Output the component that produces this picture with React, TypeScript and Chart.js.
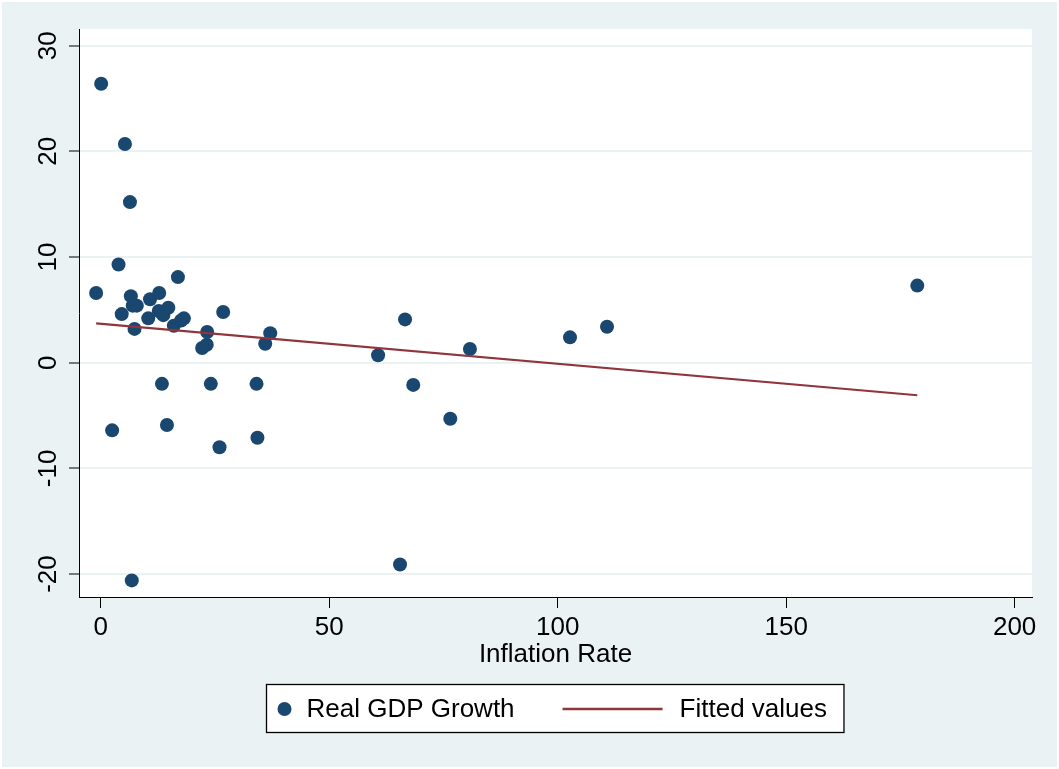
import React, { useEffect, useRef } from "react";
import { Chart, registerables } from "chart.js";

Chart.register(...registerables);

const inflation = [
  -1.0, 0.1, 2.5, 3.9, 4.6, 5.3, 6.4, 6.8, 6.6, 7.0, 7.4, 7.9, 10.4, 10.8, 12.8,
  12.7, 13.4, 13.7, 14.8, 14.5, 16.0, 16.9, 17.6, 18.2, 22.2, 23.2, 23.3, 24.1,
  26.0, 26.8, 34.1, 34.3, 36.0, 37.1, 60.7, 65.5, 66.6, 68.4, 76.5, 80.8, 102.7,
  110.8, 178.7,
];
const gdpGrowth = [
  6.6, 26.4, -6.4, 9.3, 4.6, 20.7, 15.2, -20.6, 6.3, 5.4, 3.2, 5.4, 4.2, 6.0, 6.6,
  4.9, -2.0, 4.5, 5.2, -5.9, 3.5, 8.1, 4.0, 4.2, 1.4, 1.7, 2.9, -2.0, -8.0, 4.8,
  -2.0, -7.1, 1.8, 2.8, 0.7, -19.1, 4.1, -2.1, -5.3, 1.3, 2.4, 3.4, 7.3,
];
const fitX = [-1.0, 178.7];
const fitY = [3.73, -3.08];
const xTicks = [0, 50, 100, 150, 200];
const yTicks = [-20, -10, 0, 10, 20, 30];
const seriesLabels = ["Real GDP Growth", "Fitted values"];
const xTitle = "Inflation Rate";

const BG = "#eaf2f3";
const NAVY = "#1a476f";
const MAROON = "#90353b";
const FONT = '"Liberation Sans", Arial, sans-serif';

const backgroundPlugin = {
  id: "stataBackground",
  beforeDraw(chart: any) {
    const { ctx, width, height, chartArea } = chart;
    ctx.save();
    ctx.fillStyle = "#ffffff";
    ctx.fillRect(0, 0, width, height);
    ctx.fillStyle = BG;
    ctx.fillRect(2, 2, width - 4, height - 4);
    ctx.fillStyle = "#ffffff";
    ctx.fillRect(
      chartArea.left,
      chartArea.top,
      chartArea.right - chartArea.left,
      chartArea.bottom - chartArea.top
    );
    ctx.restore();
  },
};

const legendPlugin = {
  id: "stataLegend",
  afterDraw(chart: any) {
    const { ctx, chartArea } = chart;
    const ds = chart.data.datasets;
    ctx.save();
    ctx.font = `26px ${FONT}`;
    const w1 = ctx.measureText(ds[0].label).width;
    const w2 = ctx.measureText(ds[1].label).width;
    const boxW = 40 + w1 + 48 + 100 + 17 + w2 + 17;
    const boxH = 48;
    const cx = (chartArea.left + chartArea.right) / 2;
    const left = Math.round(cx - boxW / 2) - 0.5;
    const top = 684.5;
    const midY = top + boxH / 2;
    ctx.fillStyle = "#ffffff";
    ctx.fillRect(left, top, boxW, boxH);
    ctx.strokeStyle = "#000000";
    ctx.lineWidth = 1.3;
    ctx.strokeRect(left, top, boxW, boxH);
    // marker
    ctx.fillStyle = ds[0].backgroundColor;
    ctx.beginPath();
    ctx.arc(left + 18, midY + 0.5, 7, 0, Math.PI * 2);
    ctx.fill();
    ctx.fillStyle = "#000000";
    ctx.textBaseline = "middle";
    ctx.textAlign = "left";
    ctx.fillText(ds[0].label, left + 40, midY + 1.5);
    // line
    const lx = left + 40 + w1 + 48;
    ctx.strokeStyle = ds[1].borderColor;
    ctx.lineWidth = 2.5;
    ctx.beginPath();
    ctx.moveTo(lx, midY + 0.5);
    ctx.lineTo(lx + 100, midY + 0.5);
    ctx.stroke();
    ctx.fillStyle = "#000000";
    ctx.fillText(ds[1].label, lx + 117, midY + 1.5);
    ctx.restore();
  },
};

export default function App() {
  const canvasRef = useRef<HTMLCanvasElement | null>(null);

  useEffect(() => {
    document.body.style.margin = "0";
    const canvas = canvasRef.current;
    if (!canvas) return;
    Chart.defaults.font.family = FONT;
    const chart = new Chart(canvas, {
      type: "scatter",
      data: {
        datasets: [
          {
            label: seriesLabels[0],
            data: inflation.map((x, i) => ({ x, y: gdpGrowth[i] })),
            backgroundColor: NAVY,
            borderColor: NAVY,
            pointRadius: 7,
            pointHoverRadius: 7,
            pointBorderWidth: 0,
            order: 2,
          },
          {
            label: seriesLabels[1],
            type: "line",
            data: fitX.map((x, i) => ({ x, y: fitY[i] })),
            borderColor: MAROON,
            backgroundColor: MAROON,
            borderWidth: 2.2,
            pointRadius: 0,
            showLine: true,
            fill: false,
            order: 1,
          } as any,
        ],
      },
      options: {
        animation: false,
        responsive: false,
        maintainAspectRatio: false,
        layout: { padding: { left: 0, top: 29, right: 27, bottom: 99 } },
        plugins: {
          legend: { display: false },
          tooltip: { enabled: false },
        },
        scales: {
          x: {
            type: "linear",
            min: -4.75,
            max: 203.8,
            afterBuildTicks: (scale: any) => {
              scale.ticks = xTicks.map((v) => ({ value: v }));
            },
            afterFit: (scale: any) => {
              scale.height = 73;
            },
            grid: {
              drawOnChartArea: false,
              drawTicks: true,
              tickLength: 11,
              tickColor: "#000000",
              tickWidth: 1,
            },
            border: { display: true, color: "#000000", width: 1 },
            ticks: {
              color: "#000000",
              font: { size: 26, family: FONT },
              padding: 4,
              maxRotation: 0,
              minRotation: 0,
              autoSkip: false,
            },
            title: {
              display: true,
              text: xTitle,
              color: "#000000",
              font: { size: 26, family: FONT },
              padding: 0,
            },
          },
          y: {
            type: "linear",
            min: -22.17,
            max: 31.58,
            afterBuildTicks: (scale: any) => {
              scale.ticks = yTicks.map((v) => ({ value: v }));
            },
            afterFit: (scale: any) => {
              scale.width = 79;
            },
            grid: {
              color: BG,
              lineWidth: 2,
              drawTicks: true,
              tickLength: 10,
              tickColor: "#000000",
              tickWidth: 1,
            },
            border: { display: true, color: "#000000", width: 1 },
            ticks: {
              color: "#000000",
              font: { size: 26, family: FONT },
              padding: 1,
              minRotation: 90,
              maxRotation: 90,
              crossAlign: "center",
              autoSkip: false,
            },
          },
        },
      },
      plugins: [backgroundPlugin, legendPlugin],
    });
    return () => chart.destroy();
  }, []);

  return (
    <div style={{ width: 1059, height: 769 }}>
      <canvas ref={canvasRef} width={1059} height={769} style={{ display: "block" }} />
    </div>
  );
}
